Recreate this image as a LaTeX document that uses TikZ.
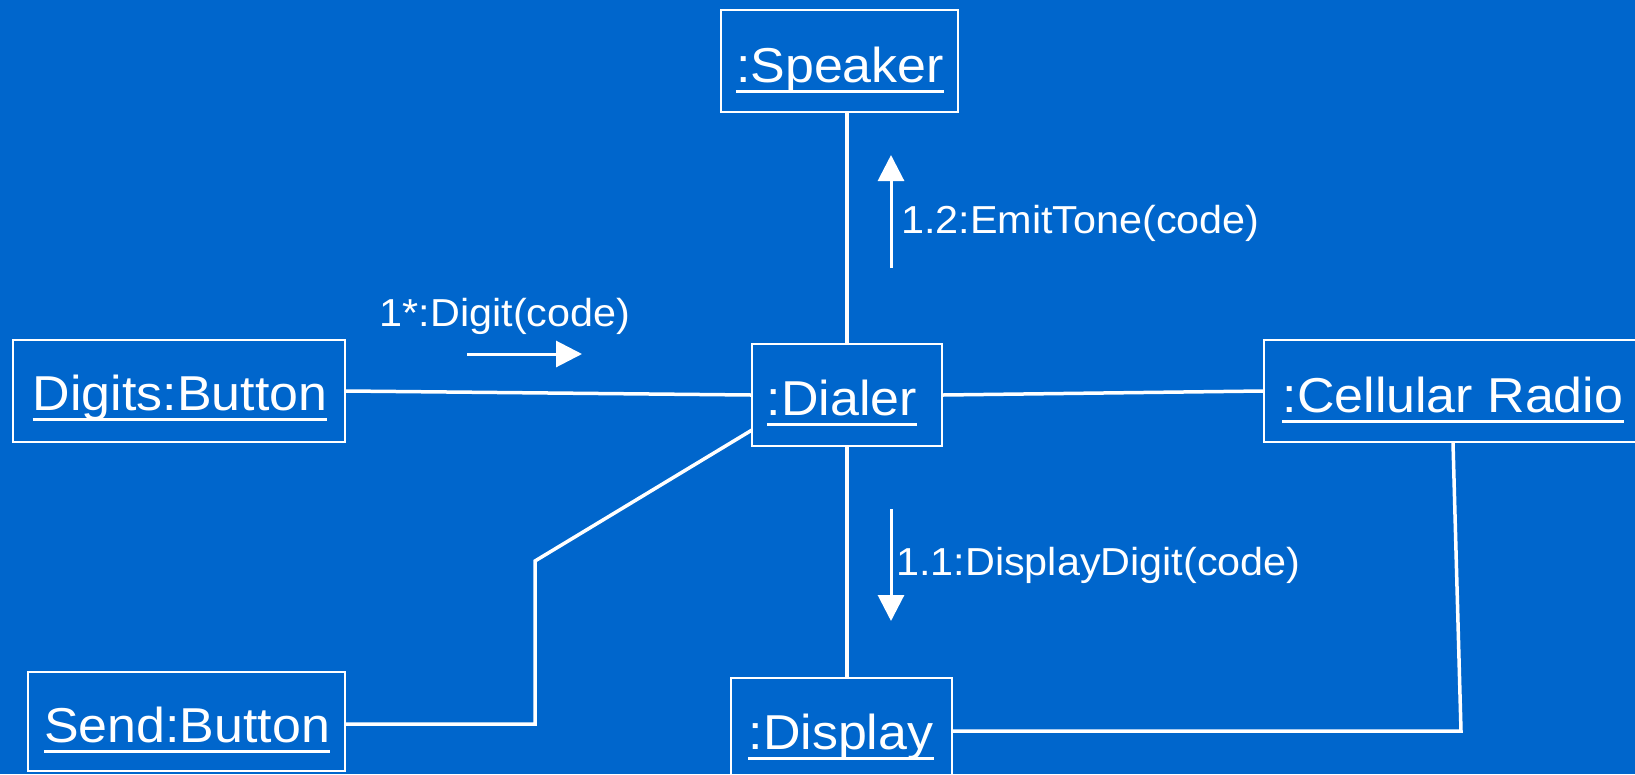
\documentclass[tikz,border=0pt]{standalone}
\usepackage{fontspec}
\setmainfont{Liberation Sans}[FakeStretch=1.06]
\usetikzlibrary{arrows.meta}
\definecolor{bg}{RGB}{0,102,204}
\begin{document}
\begin{tikzpicture}[x=1pt,y=-1pt,
  obj/.style={draw=white, line width=2pt, rectangle, inner sep=0pt},
  objtxt/.style={text=white, font=\fontsize{49}{58}\selectfont, inner sep=0pt, anchor=base},
  msg/.style={text=white, font=\fontsize{39}{46}\selectfont, inner sep=0pt},
  uline/.style={draw=white, line width=3pt},
  link/.style={draw=white, line width=3.5pt},
  msgarrow/.style={draw=white, line width=3pt, -{Triangle[length=26pt,width=26pt]}}]
\fill[bg] (0,0) rectangle (1635,774);
\useasboundingbox (0,0) rectangle (1635,774);

% object boxes
\node[obj, minimum width=237pt, minimum height=102pt] (spk) at (839.5,61) {};
\node[obj, minimum width=332pt, minimum height=102pt] (dig) at (179,391) {};
\node[obj, minimum width=190pt, minimum height=102pt] (dia) at (847,395) {};
\node[obj, minimum width=378pt, minimum height=102pt] (cell) at (1453,391) {};
\node[obj, minimum width=317pt, minimum height=99pt] (send) at (186.5,721.5) {};
\node[obj, minimum width=221pt, minimum height=102pt] (disp) at (841.5,729) {};

% object names
\node[objtxt] (spkt) at (840,82) {:Speaker};
\node[objtxt] (digt) at (180,410) {Digits:Button};
\node[objtxt] (diat) at (842,415) {:Dialer};
\node[objtxt] (cellt) at (1453,412) {:Cellular Radio};
\node[objtxt] (sendt) at (187,742) {Send:Button};
\node[objtxt] (dispt) at (841,749) {:Display};
\foreach \t in {spkt,digt,diat,cellt,sendt,dispt}{
  \draw[uline] ([yshift=-9pt]\t.base west) -- ([yshift=-9pt]\t.base east);
}

% links
\draw[link] (dia.north |- spk.south) -- (dia.north);
\draw[link] (dia.south) -- (dia.south |- disp.north);
\draw[link] (dig.east) -- (dia.west);
\draw[link] (dia.east) -- (cell.west);
\coordinate (s1) at (535,724);
\coordinate (s2) at (535,561);
\coordinate (s3) at (752,430);
\draw[link] (s1 -| send.east) -- (s1) -- (s2) -- (s3);
\coordinate (c1) at (1461,731);
\draw[link] (cell.south) -- (c1) -- (c1 -| disp.east);

% messages
\coordinate (a1s) at (891,268);
\coordinate (a1e) at (891,155);
\draw[msgarrow] (a1s) -- (a1e);
\node[msg, anchor=base west] (m12) at (901,233) {1.2:EmitTone(code)};

\coordinate (a2s) at (467,354);
\coordinate (a2e) at (582,354);
\draw[msgarrow] (a2s) -- (a2e);
\node[msg, anchor=base] (m1) at (505,326) {1*:Digit(code)};

\coordinate (a3s) at (891,509);
\coordinate (a3e) at (891,621);
\draw[msgarrow] (a3s) -- (a3e);
\node[msg, anchor=base west] (m11) at (896,575) {1.1:DisplayDigit(code)};
\end{tikzpicture}
\end{document}
